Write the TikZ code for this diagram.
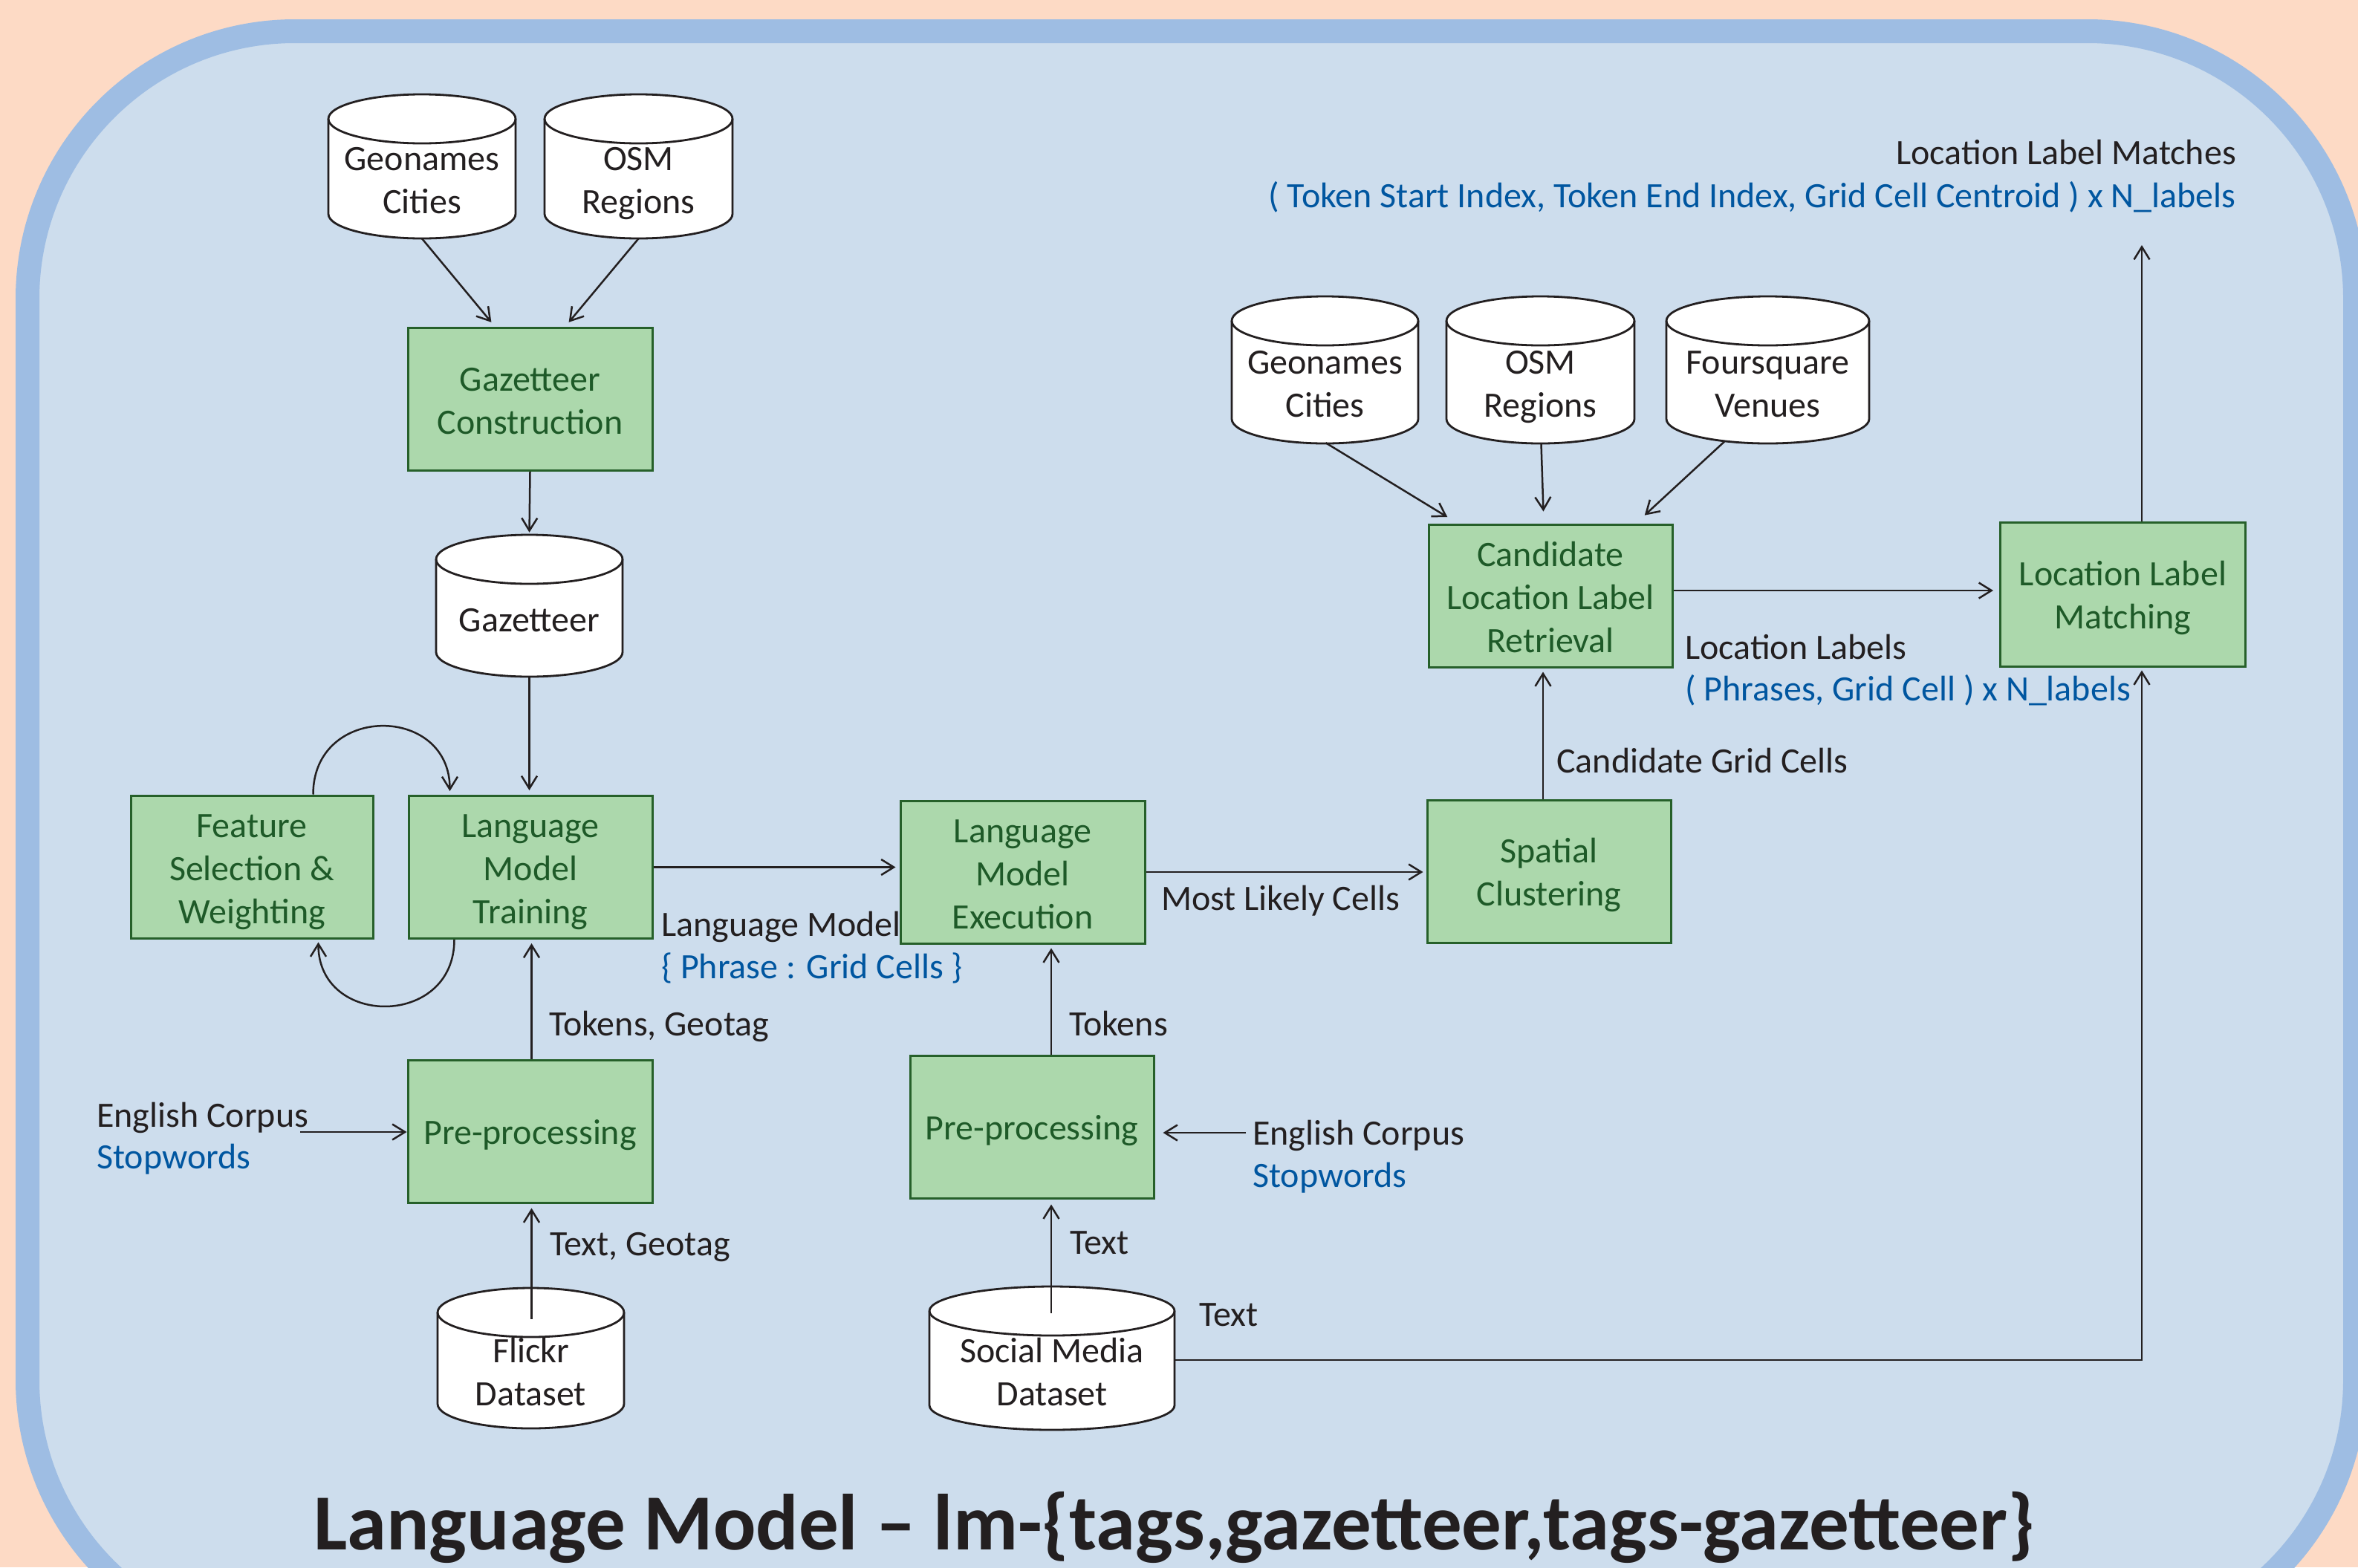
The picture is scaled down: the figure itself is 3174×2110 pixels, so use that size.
\documentclass[tikz,border=0pt]{standalone}
\usepackage{fontspec}
\setmainfont{Carlito}
\usetikzlibrary{arrows.meta,calc}
\definecolor{peach}{RGB}{253,218,197}
\definecolor{bordblue}{RGB}{158,189,227}
\definecolor{innerblue}{RGB}{205,221,237}
\definecolor{fillgreen}{RGB}{172,216,172}
\definecolor{boxgreen}{RGB}{38,96,42}
\definecolor{textgreen}{RGB}{30,90,40}
\definecolor{txtblue}{RGB}{0,86,160}
\definecolor{txtblack}{RGB}{35,31,32}
\newcommand\bodyfont{\fontsize{48}{58}\selectfont}
\newcommand\titlefont{\fontsize{107}{122}\bfseries\selectfont}
% cylinder: name, cx, top, bottom, width, extra style, text
\newcommand\dbcyl[7]{%
  \pgfmathsetmacro\dbL{#2-#5/2}%
  \pgfmathsetmacro\dbR{#2+#5/2}%
  \pgfmathsetmacro\dbT{#3+33}%
  \pgfmathsetmacro\dbB{#4-33}%
  \pgfmathsetmacro\dbRx{#5/2}%
  \filldraw[dbline] (\dbL,\dbT) -- (\dbL,\dbB)
     arc[start angle=180,end angle=360,x radius=\dbRx pt,y radius=33pt]
     -- (\dbR,\dbT)
     arc[start angle=0,end angle=180,x radius=\dbRx pt,y radius=33pt] -- cycle;
  \draw[dbline,fill=none] (\dbL,\dbT)
     arc[start angle=180,end angle=360,x radius=\dbRx pt,y radius=33pt];
  \pgfmathsetmacro\dbY{(#3+#4)/2+17}%
  \pgfmathsetmacro\dbH{#4-#3-34}%
  \node[dbtext, #6, minimum width=#5 pt, minimum height=\dbH pt] (#1) at (#2,\dbY) {#7};
}
\begin{document}
\begin{tikzpicture}[x=1pt,y=-1pt,
  lone/.style={text height=46pt, text depth=11pt},
  ltwo/.style={text height=104pt, text depth=11pt},
  lthree/.style={text height=163pt, text depth=11pt},
  arr/.style={draw=txtblack, line width=2.5pt, -{Straight Barb[length=17pt,width=21pt]}},
  proc/.style={draw=boxgreen, fill=fillgreen, line width=3pt, text=textgreen, align=center,
     minimum width=329pt, minimum height=192pt, inner sep=0pt, font=\bodyfont},
  dbline/.style={draw=txtblack, fill=white, line width=2.8pt},
  dbtext/.style={inner sep=0pt, align=center, font=\bodyfont, text=txtblack},
  lbl/.style={inner sep=0pt, font=\bodyfont, text=txtblack, anchor=base west},
  lblb/.style={lbl, text=txtblue}]
\useasboundingbox (0,0) rectangle (3174,2110);
\fill[peach] (0,0) rectangle (3174,2110);
\begin{scope}
\clip (0,0) rectangle (3174,2110);
\draw[line width=32pt, draw=bordblue, fill=innerblue, rounded corners=360pt] (37,42) rectangle (3170,2218);
\end{scope}

% cylinders
\dbcyl{g1}{568}{127}{321}{252}{ltwo}{Geonames\\Cities}
\dbcyl{o1}{859.5}{127}{321}{253}{ltwo}{OSM\\Regions}
\dbcyl{gaz}{712.5}{720}{911}{251}{lone}{Gazetteer}
\dbcyl{flickr}{714.5}{1734}{1923}{251}{ltwo}{Flickr\\Dataset}
\dbcyl{smd}{1416}{1732}{1925}{330}{ltwo}{Social Media\\Dataset}
\dbcyl{g2}{1783.5}{399}{597}{251}{ltwo}{Geonames\\Cities}
\dbcyl{o2}{2073.5}{399}{597}{253}{ltwo}{OSM\\Regions}
\dbcyl{fsq}{2379.5}{399}{597}{273}{ltwo}{Foursquare\\Venues}

% process boxes
\node[proc, ltwo] (gc) at (713.5,537.5) {Gazetteer\\Construction};
\node[proc, lthree, minimum width=326pt] (feat) at (339,1167) {Feature\\Selection \&\\Weighting};
\node[proc, lthree, minimum width=328pt] (lmt) at (714,1167.5) {Language\\Model\\Training};
\node[proc, lthree] (lme) at (1376.5,1174) {Language\\Model\\Execution};
\node[proc, lone] (pp1) at (713.5,1523) {Pre-processing};
\node[proc, lone, minimum width=328pt] (pp2) at (1389,1517) {Pre-processing};
\node[proc, ltwo, minimum width=328pt] (sc) at (2085,1173) {Spatial\\Clustering};
\node[proc, lthree, minimum width=328pt] (clr) at (2087,802) {Candidate\\Location Label\\Retrieval};
\node[proc, ltwo, minimum width=330pt, minimum height=194pt] (llm) at (2857.5,800) {Location Label\\Matching};

% labels
\node[lbl] (l1) at (739,1394) {Tokens, Geotag};
\node[lbl] (l2) at (740,1690) {Text, Geotag};
\node[lbl] (ec1) at (130,1517) {English Corpus};
\node[lblb] (sw1) at (130,1573) {Stopwords};
\node[lbl] (lm) at (890,1260) {Language Model};
\node[lblb] (lmb) at (890,1317) {\{ Phrase : Grid Cells \}};
\node[lbl] (l3) at (1439,1394) {Tokens};
\node[lbl] (l4) at (1440,1688) {Text};
\node[lbl] (l5) at (1614,1785) {Text};
\node[lbl] (ec2) at (1686,1541) {English Corpus};
\node[lblb] (sw2) at (1686,1598) {Stopwords};
\node[lbl] (mlc) at (1563,1225) {Most Likely Cells};
\node[lbl] (cgc) at (2095,1040) {Candidate Grid Cells};
\node[lbl] (ll) at (2268,887) {Location Labels};
\node[lblb] (llb) at (2268,943) {( Phrases, Grid Cell ) x N\_labels};
\node[lbl, anchor=base east] (llmt) at (3010,221) {Location Label Matches};
\node[lblb, anchor=base east] (llmb) at (3010,279) {( Token Start Index, Token End Index, Grid Cell Centroid ) x N\_labels};
\node[font=\titlefont, text=txtblack, anchor=base, inner sep=0pt] (title) at (1581,2086)
  {Language Model -- lm-\{tags,gazetteer,tags-gazetteer\}};

\coordinate (ec1a) at (404,1524);
\coordinate (ec2a) at (1677,1525);
\coordinate (llmout) at (2883,330);

% connectors
\draw[arr, shorten >=8pt] (g1.south) -- ($(gc.north)+(-47,0)$);
\draw[arr, shorten >=8pt] (o1.south) -- ($(gc.north)+(47,0)$);
\draw[arr, shorten >=3pt] (gc.south) -- ($(gaz.north)+(0,-34)$);
\draw[arr, shorten >=6pt] (gaz.south) -- (gaz.south |- lmt.north);
\draw[arr, shorten >=5pt] ($(feat.north east)+(-82,0)$) .. controls ($(feat.north east)+(-82,-122)$) and ($(lmt.north west)+(57,-122)$) .. ($(lmt.north west)+(57,0)$);
\draw[arr, shorten >=4pt] ($(lmt.south west)+(63,0)$) .. controls ($(lmt.south west)+(63,119)$) and ($(feat.south east)+(-75,119)$) .. ($(feat.south east)+(-75,0)$);
\draw[arr, shorten >=5pt] (lmt.east) -- (lmt.east -| lme.west);
\draw[arr, shorten >=5pt] ($(pp1.north)+(2,0)$) -- ($(lmt.south)+(1.5,0)$);
\draw[arr, shorten >=6pt] ($(flickr.north)+(1,8)$) -- ($(pp1.south)+(2,0)$);
\draw[arr] (ec1a) -- (ec1a -| pp1.west);
\draw[arr, shorten >=5pt] ($(pp2.north)+(26,0)$) -- ($(lme.south)+(38.5,0)$);
\draw[arr, shorten >=7pt] ($(smd.north)+(-1,2)$) -- ($(pp2.south)+(26,0)$);
\draw[arr, shorten >=11pt] (ec2a) -- (ec2a -| pp2.east);
\draw[arr, shorten >=4pt] (lme.east) -- (lme.east -| sc.west);
\draw[arr, shorten >=5pt] ($(sc.north)+(-8,0)$) -- ($(clr.south)+(-10,0)$);
\draw[arr, shorten >=16pt] ($(g2.south)+(1,-1)$) -- ($(clr.north)+(-125,0)$);
\draw[arr, shorten >=16pt] ($(o2.south)+(1,0)$) -- ($(clr.north)+(-9,0)$);
\draw[arr, shorten >=16pt] ($(fsq.south)+(-58,-3)$) -- ($(clr.north)+(115,0)$);
\draw[arr, shorten >=8pt] ($(clr.east)+(0,-7)$) -- ($(llm.west)+(0,-5)$);
\draw[arr] ($(llm.north)+(25.5,0)$) -- (llmout);
\draw[arr, shorten >=4pt] ($(smd.east)+(0,-14.5)$) -| ($(llm.south)+(25.5,0)$);
\end{tikzpicture}
\end{document}
